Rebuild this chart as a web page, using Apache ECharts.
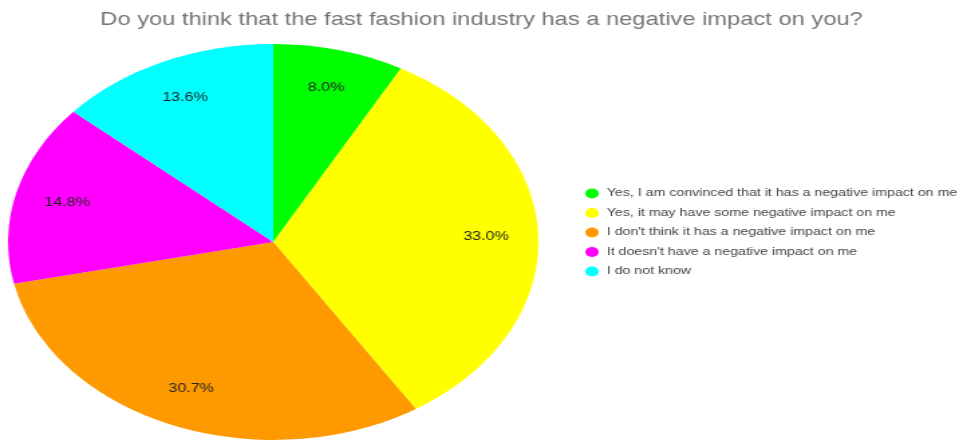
<!DOCTYPE html>
<html>
<head>
<meta charset="utf-8">
<script src="https://cdn.jsdelivr.net/npm/echarts@6/dist/echarts.min.js"></script>
<style>
  html, body { margin: 0; padding: 0; background: #fff; overflow: hidden; }
  /* the reference is a horizontally stretched chart, so draw narrow and stretch */
  #main { width: 719px; height: 440px; transform: scaleX(1.3394); transform-origin: 0 0; }
</style>
</head>
<body>
<div id="main"></div>
<script>
var answers = [
  'Yes, I am convinced that it has a negative impact on me',
  'Yes, it may have some negative impact on me',
  "I don't think it has a negative impact on me",
  "It doesn't have a negative impact on me",
  'I do not know'
];
var shares = [8.0, 33.0, 30.7, 14.8, 13.6];
var colors = ['#00ff00', '#ffff00', '#ff9900', '#ff00ff', '#00ffff'];

var font = 'Liberation Sans, Arial, sans-serif';

var pieData = answers.map(function (name, i) {
  return { name: name, value: shares[i], itemStyle: { color: colors[i] } };
});
var labelData = answers.map(function (name, i) {
  return { name: name, value: shares[i] };
});

var myChart = echarts.init(document.getElementById('main'));
var option = {
  backgroundColor: '#ffffff',
  animation: false,
  title: {
    text: 'Do you think that the fast fashion industry has a negative impact on you?',
    left: 'center',
    top: 6,
    textStyle: { color: '#757575', fontSize: 17.7, fontWeight: 'normal', fontFamily: font }
  },
  legend: {
    orient: 'vertical',
    left: 432,
    top: 183,
    icon: 'circle',
    itemWidth: 10,
    itemHeight: 10,
    itemGap: 8.5,
    data: answers,
    textStyle: { color: '#454545', fontSize: 10.6, fontFamily: font, padding: [0, 0, 0, 1] }
  },
  series: [
    {
      type: 'pie',
      center: [204, 242],
      radius: 198,
      startAngle: 90,
      clockwise: true,
      silent: true,
      label: { show: false },
      labelLine: { show: false },
      itemStyle: { borderWidth: 0 },
      data: pieData
    },
    {
      // transparent copy, only to place the labels at ~80% of the radius
      type: 'pie',
      center: [204, 242],
      radius: 312,
      startAngle: 90,
      clockwise: true,
      silent: true,
      itemStyle: { color: 'rgba(0,0,0,0)', borderWidth: 0 },
      label: {
        show: true,
        position: 'inside',
        color: '#222222',
        fontSize: 12,
        fontFamily: font,
        formatter: function (p) { return p.value.toFixed(1) + '%'; }
      },
      labelLine: { show: false },
      data: labelData
    }
  ]
};
myChart.setOption(option);
</script>
</body>
</html>
